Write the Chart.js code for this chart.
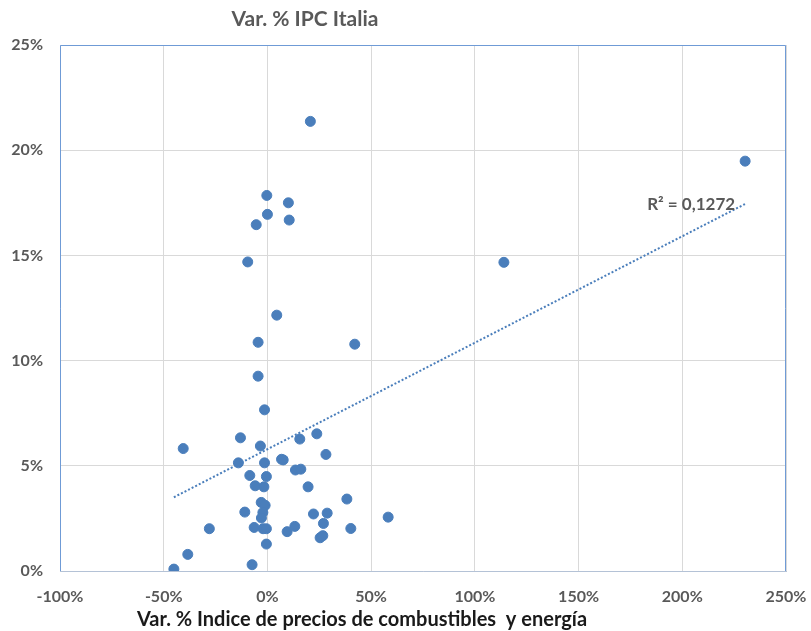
<!DOCTYPE html>
<html>
<head>
<meta charset="utf-8">
<script src="https://cdn.jsdelivr.net/npm/chart.js@4.4.1/dist/chart.umd.min.js"></script>
<style>
  html, body { margin: 0; padding: 0; background: #fff; }
  #wrap { width: 811px; height: 631px; }
</style>
</head>
<body>
<div id="wrap"><canvas id="chart" width="811" height="631"></canvas></div>
<script>
// Var. % energía (x) vs Var. % IPC (y), en %
const energyVar = [
    -1.4, -13.0, -40.6, -3.4, 15.6, 23.8, 28.2, 6.8, 7.6, -14.0,
    -1.4, 13.5, 16.1, -8.5, -0.5, -5.9, -1.7, 19.6, 38.3, -3.0,
    -1.1, -2.2, -2.9, -10.9, 22.2, 28.8, 58.2, -28.0, -6.4, -2.1,
    -0.5, 9.5, 13.2, 27.0, 40.2, 25.4, 26.7, -0.5, -38.4, -7.4,
    -45.1, 20.7, -0.3, 10.1, 0.0, -5.4, 10.5, -9.5, 4.5, -4.5,
    42.1, -4.5, 114.0, 230.3
];
const cpiVar = [
    7.66, 6.33, 5.82, 5.94, 6.27, 6.52, 5.54, 5.31, 5.28, 5.14,
    5.14, 4.80, 4.84, 4.54, 4.49, 4.05, 4.00, 4.00, 3.42, 3.26,
    3.12, 2.78, 2.52, 2.80, 2.71, 2.75, 2.56, 2.01, 2.07, 2.01,
    2.01, 1.87, 2.12, 2.26, 2.02, 1.58, 1.68, 1.28, 0.79, 0.30,
    0.09, 21.37, 17.85, 17.50, 16.95, 16.46, 16.68, 14.69, 12.16, 10.87,
    10.78, 9.26, 14.67, 19.48
];
const xTicks = [-100, -50, 0, 50, 100, 150, 200, 250];
const yTicks = [0, 5, 10, 15, 20, 25];

const chartTitle = 'Var. % IPC Italia';
const xAxisTitle = 'Var. % Indice de precios de combustibles  y energía';
const r2Label = 'R² = 0,1272';

const dotColor = '#4a7ebb';
const textGray = '#595959';
const fontFamily = 'Lato, "Liberation Sans", sans-serif';

// recta de tendencia lineal (mínimos cuadrados)
function linearFit(xs, ys) {
    const n = xs.length;
    const mx = xs.reduce((a, b) => a + b, 0) / n;
    const my = ys.reduce((a, b) => a + b, 0) / n;
    let sxy = 0, sxx = 0;
    for (let i = 0; i < n; i++) {
        sxy += (xs[i] - mx) * (ys[i] - my);
        sxx += (xs[i] - mx) * (xs[i] - mx);
    }
    const slope = sxy / sxx;
    return { slope, intercept: my - slope * mx };
}

const fit = linearFit(energyVar, cpiVar);
const xMin = Math.min(...energyVar);
const xMax = Math.max(...energyVar);
const trendPoints = [xMin, xMax].map(x => ({ x, y: fit.intercept + fit.slope * x }));
const scatterPoints = energyVar.map((x, i) => ({ x, y: cpiVar[i] }));

const decorPlugin = {
    id: 'decor',
    afterDraw(chart) {
        const { ctx, chartArea: a, scales } = chart;
        ctx.save();
        // marco del área de trazado
        ctx.lineWidth = 1;
        ctx.strokeStyle = '#6f9bd6';
        ctx.beginPath();
        ctx.moveTo(a.left + 0.5, a.bottom);
        ctx.lineTo(a.left + 0.5, a.top + 0.5);
        ctx.lineTo(a.right - 0.5, a.top + 0.5);
        ctx.lineTo(a.right - 0.5, a.bottom);
        ctx.stroke();

        // título
        ctx.fillStyle = textGray;
        ctx.font = 'bold 21px ' + fontFamily;
        ctx.textAlign = 'center';
        ctx.textBaseline = 'middle';
        ctx.fillText(chartTitle, 305, 19);

        // título del eje X
        ctx.fillStyle = '#1a1a1a';
        ctx.font = 'bold 20px ' + fontFamily;
        ctx.fillText(xAxisTitle, 362, 620);

        // etiqueta R²
        const last = trendPoints[1];
        ctx.fillStyle = textGray;
        ctx.font = 'bold 17px ' + fontFamily;
        ctx.textAlign = 'right';
        ctx.fillText(r2Label, scales.x.getPixelForValue(last.x) - 10,
            scales.y.getPixelForValue(last.y) + 1);
        ctx.restore();
    }
};

new Chart(document.getElementById('chart'), {
    type: 'scatter',
    data: {
        datasets: [{
            label: 'Var. % IPC Italia',
            data: scatterPoints,
            backgroundColor: dotColor,
            borderColor: dotColor,
            pointRadius: 5,
            pointHoverRadius: 5,
            order: 1
        }, {
            label: 'Tendencia',
            type: 'line',
            data: trendPoints,
            borderColor: dotColor,
            borderWidth: 2,
            borderDash: [2, 2],
            pointRadius: 0,
            fill: false,
            order: 2
        }]
    },
    options: {
        responsive: false,
        animation: false,
        layout: { padding: { top: 45, right: 25, bottom: 0, left: 0 } },
        plugins: {
            legend: { display: false },
            tooltip: { enabled: false }
        },
        scales: {
            x: {
                type: 'linear',
                min: -100,
                max: 250,
                afterBuildTicks: scale => { scale.ticks = xTicks.map(v => ({ value: v })); },
                afterFit: scale => {
                    scale.height = 60;
                    scale.paddingLeft = 0;
                    scale.paddingRight = 0;
                },
                grid: { color: '#d9d9d9', drawTicks: false },
                border: { color: '#b4c2d6' },
                ticks: {
                    padding: 16,
                    color: textGray,
                    font: { family: fontFamily, size: 16, weight: 'bold' },
                    maxRotation: 0,
                    callback: v => v + '%'
                }
            },
            y: {
                type: 'linear',
                min: 0,
                max: 25,
                afterBuildTicks: scale => { scale.ticks = yTicks.map(v => ({ value: v })); },
                afterFit: scale => {
                    scale.width = 60;
                    scale.paddingTop = 0;
                    scale.paddingBottom = 0;
                },
                grid: { color: '#d9d9d9', drawTicks: false },
                border: { display: false },
                ticks: {
                    padding: 17,
                    color: textGray,
                    font: { family: fontFamily, size: 16, weight: 'bold' },
                    callback: v => v + '%'
                }
            }
        }
    },
    plugins: [decorPlugin]
});
</script>
</body>
</html>
